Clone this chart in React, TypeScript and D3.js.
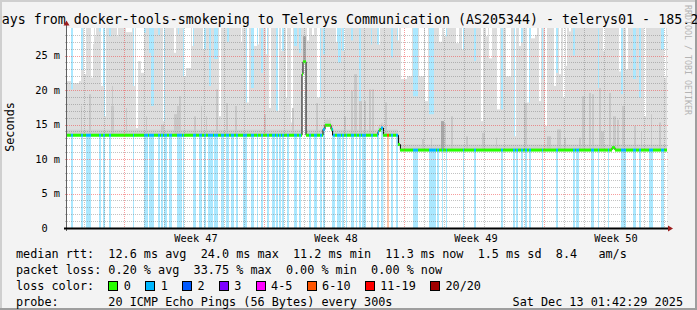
import React from 'react';
import * as d3 from 'd3';

const W = 697, H = 310;
const X0 = 67, X1 = 667, Y0 = 228, Y1 = 28;
const DAYS = 30;
const Y_MAX = 29;
const MONO = '"DejaVu Sans Mono", monospace';
const PRE = { whiteSpace: 'pre' as const };
const LEG_FS = 11.8;

const titleText = 'ays from docker-tools-smokeping to Telerys Communication (AS205344) - telerys01 - 185.2';
const weekStarts = [2.85, 9.85, 16.85, 23.85];
const weekLabels = ['Week 47', 'Week 48', 'Week 49', 'Week 50'];
const yTicks = [0, 5, 10, 15, 20, 25];
const yTickLabels = ['0  ', '5 m', '10 m', '15 m', '20 m', '25 m'];

// median rtt steps: [startDay, ms]
const medianSteps: [number, number][] = [
  [0, 13.45], [11.75, 22.3], [11.8, 24.1], [11.95, 13.45], [12.8, 14.3], [12.9, 14.9],
  [13.2, 14.3], [13.28, 13.45], [15.55, 13.9], [15.6, 14.2], [15.7, 14.5], [15.82, 13.45],
  [16.57, 12.1], [16.67, 11.3], [27.25, 11.65], [27.4, 11.3],
];

// packet loss events: [startDay, endDay, lost pings of 20]
const lossEvents: [number, number, number][] = [
  [0.2, 0.3, 1], [0.7, 0.8, 1], [0.95, 1.2, 1], [1.6, 1.7, 1], [1.8, 1.9, 1], [2.1, 2.2, 1],
  [3.3, 3.35, 1], [3.85, 4.05, 1], [4.1, 4.35, 1], [4.55, 4.65, 1], [4.7, 4.8, 1], [4.85, 5.0, 1],
  [5.1, 5.25, 1], [5.5, 5.75, 1], [5.8, 5.85, 1], [6.3, 6.45, 1], [6.6, 6.75, 1], [6.85, 6.95, 1],
  [7.05, 7.3, 1], [7.35, 7.55, 1], [7.7, 7.85, 1], [7.95, 8.1, 1], [8.2, 8.35, 1], [8.45, 8.55, 1],
  [8.8, 9.0, 1], [9.2, 9.35, 1], [9.5, 9.55, 1], [9.7, 9.8, 1], [10.0, 10.1, 1], [10.25, 10.4, 1],
  [10.45, 10.55, 1], [10.6, 10.7, 1], [10.75, 10.85, 1], [11.0, 11.1, 1], [11.35, 11.5, 1],
  [11.6, 11.7, 1], [12.1, 12.2, 1], [12.35, 12.5, 1], [12.65, 12.75, 1], [12.8, 12.9, 1],
  [13.25, 13.4, 1], [13.5, 13.7, 1], [13.75, 13.85, 1], [13.95, 14.0, 1], [14.2, 14.35, 1],
  [14.45, 14.5, 1], [14.6, 14.7, 1], [14.75, 14.95, 1], [15.2, 15.3, 1], [15.5, 15.6, 1],
  [15.7, 15.82, 1], [16.0, 16.1, 7], [16.2, 16.3, 1], [16.45, 16.55, 1], [17.3, 17.55, 1],
  [18.1, 18.45, 1], [18.5, 18.6, 1], [18.75, 18.8, 1], [18.95, 19.0, 1], [19.8, 19.85, 1],
  [20.35, 20.45, 1], [21.7, 21.8, 1], [22.3, 22.4, 1], [22.45, 22.55, 1], [22.7, 22.8, 1],
  [22.9, 23.0, 1], [23.1, 23.2, 1], [23.75, 23.8, 1], [24.45, 24.55, 1], [25.3, 25.4, 1],
  [25.45, 25.6, 1], [26.2, 26.35, 1], [26.55, 26.6, 1], [27.05, 27.1, 1], [27.7, 27.95, 1],
  [28.3, 28.45, 1], [28.6, 28.7, 1], [29.1, 29.3, 1], [29.7, 29.85, 1],
];

// periods where the slowest ping stayed below the graph top: [startDay, endDay, max ms]
const smokeGaps: [number, number, number][] = [
  [0.0, 0.2, 21.3], [0.2, 0.3, 20.1], [0.3, 0.6, 21.0], [0.6, 0.7, 21.3], [0.7, 0.8, 22.9],
  [0.85, 0.95, 22.3], [1.2, 1.3, 21.8], [1.3, 1.35, 26.7], [1.4, 1.45, 27.8], [1.6, 1.7, 28.5],
  [1.7, 1.85, 20.6], [1.85, 1.95, 16.2], [2.1, 2.2, 27.8], [2.5, 2.55, 27.8], [2.95, 3.25, 28.4],
  [3.3, 3.4, 20.6], [3.45, 3.55, 14.5], [3.55, 3.7, 24.2], [3.7, 3.85, 22.5], [3.85, 3.95, 28.3],
  [4.1, 4.2, 25.4], [4.2, 4.35, 17.7], [4.55, 4.65, 28.0], [4.8, 4.9, 15.5], [5.35, 5.45, 25.4],
  [5.55, 5.6, 28.1], [5.8, 5.95, 22.0], [5.95, 6.2, 23.2], [6.25, 6.35, 26.4], [6.8, 6.95, 25.9],
  [7.1, 7.2, 20.6], [7.35, 7.55, 24.5], [7.6, 7.7, 16.2], [8.0, 8.1, 27.0], [8.7, 8.75, 27.0],
  [8.95, 9.1, 18.2], [9.2, 9.35, 20.3], [9.35, 9.5, 26.4], [9.5, 9.6, 26.6], [9.7, 9.8, 22.5],
  [9.95, 10.05, 25.2], [10.1, 10.2, 17.4], [10.45, 10.6, 17.0], [10.7, 10.85, 25.7],
  [10.95, 11.0, 18.9], [11.2, 11.3, 15.3], [11.35, 11.5, 26.4], [11.6, 11.7, 25.4],
  [12.0, 12.1, 27.2], [12.25, 12.35, 28.0], [12.5, 12.7, 18.9], [12.8, 12.9, 25.2],
  [13.45, 13.55, 27.0], [13.55, 13.7, 24.0], [13.75, 13.9, 25.7], [14.2, 14.3, 27.2],
  [14.6, 14.7, 17.7], [15.2, 15.25, 26.6], [15.5, 15.65, 26.6], [16.2, 16.3, 24.7],
  [16.5, 16.6, 27.2], [16.7, 17.0, 21.6], [17.0, 17.25, 22.0], [17.3, 17.55, 19.1],
  [17.6, 17.85, 22.0], [17.9, 18.05, 18.4], [18.1, 18.35, 16.5], [18.6, 18.75, 27.0],
  [18.85, 19.0, 27.8], [19.45, 19.6, 26.8], [19.75, 19.85, 25.9], [20.35, 20.45, 24.2],
  [20.7, 20.8, 15.5], [20.95, 21.05, 27.8], [21.1, 21.25, 24.6], [21.5, 21.65, 17.2],
  [21.7, 21.8, 17.2], [21.95, 22.2, 22.0], [22.35, 22.45, 13.3], [22.6, 22.7, 26.4],
  [22.7, 22.8, 26.9], [23.0, 23.15, 18.2], [23.15, 23.25, 27.5], [23.25, 23.4, 27.5],
  [23.4, 23.5, 28.0], [23.6, 23.7, 18.4], [23.75, 23.8, 21.6], [23.9, 24.0, 14.8],
  [24.35, 24.45, 20.6], [24.45, 24.55, 22.5], [24.6, 24.7, 22.3], [24.8, 24.9, 18.9],
  [24.95, 25.0, 23.5], [25.1, 25.2, 28.5], [25.3, 25.4, 25.0], [26.55, 26.6, 20.3],
  [26.8, 26.9, 25.7], [27.6, 27.7, 22.7], [27.7, 27.8, 19.4], [27.95, 28.05, 23.0],
  [28.3, 28.45, 21.6], [28.6, 28.7, 18.9], [28.85, 28.95, 16.2], [29.7, 29.85, 25.9],
  [29.85, 29.95, 21.8],
];

// denser smoke (inner pings): [startDay, endDay, ms, layer]
const smokeSpikes: [number, number, number, number][] = [
  [0.7, 0.75, 17.7, 1], [1.1, 1.2, 19.4, 1], [2.2, 2.35, 17.7, 1], [2.25, 2.3, 20.6, 1],
  [2.95, 3.0, 17.4, 1], [3.95, 4.0, 16.2, 1], [4.7, 4.85, 15.0, 1], [5.35, 5.5, 16.5, 1],
  [5.5, 5.6, 17.7, 1], [5.6, 5.7, 19.1, 1], [6.35, 6.45, 16.2, 1], [6.7, 6.75, 17.7, 1],
  [6.95, 7.0, 16.2, 1], [7.45, 7.55, 20.1, 1], [7.95, 8.05, 18.1, 1], [8.4, 8.5, 17.7, 1],
  [9.85, 9.95, 16.5, 1], [11.25, 11.35, 17.4, 1], [11.8, 11.95, 27.8, 2], [12.45, 12.55, 18.1, 1],
  [13.85, 13.95, 16.2, 1], [14.2, 14.3, 19.9, 1], [14.35, 14.5, 22.3, 1], [14.6, 14.75, 18.4, 1],
  [14.85, 14.95, 18.4, 1], [15.1, 15.2, 20.1, 1], [15.25, 15.35, 20.1, 1], [15.9, 16.0, 18.2, 1],
  [17.75, 17.85, 12.9, 1], [18.2, 18.25, 13.1, 1], [18.7, 18.85, 15.5, 2], [18.85, 18.95, 15.2, 1],
  [19.2, 19.3, 16.2, 1], [19.95, 20.05, 13.3, 1], [20.75, 20.9, 13.8, 1], [21.45, 21.5, 13.1, 1],
  [22.85, 23.0, 18.1, 1], [24.0, 24.2, 13.3, 1], [24.5, 24.7, 14.3, 1], [24.85, 24.95, 13.1, 1],
  [25.6, 25.7, 13.1, 1], [25.75, 25.9, 19.1, 1], [26.1, 26.2, 19.6, 1], [26.25, 26.35, 19.4, 1],
  [26.6, 26.7, 20.3, 1], [26.7, 26.85, 14.0, 1], [27.1, 27.2, 19.6, 1], [27.3, 27.45, 16.2, 1],
  [27.5, 27.6, 15.7, 1], [27.75, 27.9, 17.7, 1], [28.35, 28.45, 14.8, 1], [28.7, 28.75, 14.0, 1],
  [29.2, 29.25, 16.5, 1], [29.6, 29.7, 15.3, 1],
];

const lossLabels = ['0', '1', '2', '3', '4-5', '6-10', '11-19', '20/20'];
const lossColors = ['#26ff00', '#00b8ff', '#0059ff', '#7e00ff', '#ff00ff', '#ff5500', '#ff0000', '#a10000'];
const smokeColors = ['#dddddd', '#c8c8c8', '#a8a8a8'];

const rttStats = ['12.6 ms avg', '24.0 ms max', '11.2 ms min', '11.3 ms now', '1.5 ms sd', '8.4   am/s'];
const lossStats = ['0.20 % avg', '33.75 % max', '0.00 % min', '0.00 % now'];
const probeText = '20 ICMP Echo Pings (56 Bytes) every 300s';
const dateText = 'Sat Dec 13 01:42:29 2025';
const watermark = 'RRDTOOL / TOBI OETIKER';

function lossClass(n: number) {
  if (n <= 0) return 0;
  if (n <= 3) return n;
  if (n <= 5) return 4;
  if (n <= 10) return 5;
  if (n <= 19) return 6;
  return 7;
}

export default function App() {
  const x = d3.scaleLinear().domain([0, DAYS]).range([X0, X1]);
  const y = d3.scaleLinear().domain([0, Y_MAX]).range([Y0, Y1]);

  const medianAt = (d: number) => {
    let v = medianSteps[0][1];
    for (const [s, m] of medianSteps) if (s <= d + 1e-9) v = m;
    return v;
  };
  const lossAt = (d: number) => {
    for (const [s, e, c] of lossEvents) if (d >= s && d < e) return c;
    return 0;
  };
  const topAt = (d: number) => {
    for (const [s, e, t] of smokeGaps) if (d >= s && d < e) return t;
    return Y_MAX;
  };

  const cols = d3.range(0, X1 - X0).map((i) => {
    const d0 = x.invert(X0 + i);
    const d1 = x.invert(X0 + i + 1);
    const dm = (d0 + d1) / 2;
    return { i, d0, d1, med: medianAt(dm), loss: lossAt(dm), top: topAt(dm) };
  });

  const medLine = d3
    .line<[number, number]>()
    .x((p) => x(p[0]))
    .y((p) => y(p[1]))
    .curve(d3.curveStepAfter)([...medianSteps, [DAYS, medianSteps[medianSteps.length - 1][1]]]);

  const minorY = d3.range(1, Y_MAX, 1).filter((v) => v % 5 !== 0);
  const majorY = yTicks.filter((v) => v > 0);
  const dayLines = d3.range(weekStarts[0] - 2, DAYS, 1).filter((d) => !weekStarts.some((w) => Math.abs(w - d) < 1e-6));

  const rttLine = 'median rtt:  ' + rttStats.join('  ');
  const lossLine = 'packet loss: ' + lossStats.join('  ');
  const CW = LEG_FS * 0.602;
  let cursor = 16 + 13 * CW;
  const legendItems = lossLabels.map((lab, k) => {
    const bx = cursor;
    const tx = cursor + 15.5;
    cursor = tx + lab.length * CW + 2 * CW;
    return { lab, color: lossColors[k], bx, tx };
  });

  const lineY = [254, 270, 286, 302];
  const legendText = (key: string, tx: number, ty: number, s: string, anchor = 'start') => (
    <text key={key} x={tx} y={ty} textAnchor={anchor} fontFamily={MONO} fontSize={LEG_FS} fill="#000" style={PRE}>
      {s}
    </text>
  );

  return (
    <svg width={W} height={H} style={{ position: 'absolute', left: 0, top: 0 }} xmlns="http://www.w3.org/2000/svg">
      <rect x={0} y={0} width={W} height={H} fill="#f3f3f3" />
      <rect x={0} y={0} width={W} height={2} fill="#cfcfcf" />
      <rect x={0} y={0} width={2} height={H} fill="#cfcfcf" />
      <rect x={0} y={H - 2} width={W} height={2} fill="#9e9e9e" />
      <rect x={W - 2} y={0} width={2} height={H} fill="#9e9e9e" />

      <text x={1.7} y={23.5} fontFamily={MONO} fontSize={13.3} fill="#000" style={PRE}>
        {titleText}
      </text>

      <text transform={`translate(685,5) rotate(90)`} fontFamily={MONO} fontSize={8.3} fill="#b4b4b4">
        {watermark}
      </text>

      {/* canvas */}
      <rect x={X0} y={Y1} width={X1 - X0} height={Y0 - Y1} fill="#ffffff" />

      {/* loss background */}
      {lossEvents.map(([s, e, c], k) => (
        <rect
          key={'l' + k}
          x={x(s)}
          y={y(Y_MAX)}
          width={x(e) - x(s)}
          height={y(0) - y(Y_MAX)}
          fill={lossColors[lossClass(c)]}
          fillOpacity={0.33}
        />
      ))}

      {/* outer smoke */}
      {cols.map((c) => (
        <rect
          key={'s' + c.i}
          x={x(c.d0)}
          y={y(c.top)}
          width={x(c.d1) - x(c.d0)}
          height={Math.max(0, y(c.med - 0.15) - y(c.top))}
          fill={smokeColors[0]}
        />
      ))}
      {/* inner smoke band */}
      {cols.map((c) => (
        <rect
          key={'b' + c.i}
          x={x(c.d0)}
          y={y(Math.min(c.top, c.med + 0.8))}
          width={x(c.d1) - x(c.d0)}
          height={Math.max(0, y(c.med) - y(Math.min(c.top, c.med + 0.8)))}
          fill="#d0d0d0"
        />
      ))}
      {smokeSpikes.map(([s, e, v, layer], k) => {
        const base = medianAt((s + e) / 2);
        return (
          <rect
            key={'k' + k}
            x={x(s)}
            y={y(v)}
            width={x(e) - x(s)}
            height={Math.max(0, y(base) - y(v))}
            fill={smokeColors[layer]}
          />
        );
      })}

      {/* median */}
      <path d={medLine || ''} fill="none" stroke="#000" strokeWidth={1} />
      {cols.map((c) => (
        <rect
          key={'m' + c.i}
          x={x(c.d0)}
          y={y(c.med) - 1.5}
          width={x(c.d1) - x(c.d0)}
          height={3}
          fill={lossColors[lossClass(c.loss)]}
        />
      ))}

      {/* grid */}
      <g shapeRendering="crispEdges">
        {minorY.map((v) => (
          <line key={'gy' + v} x1={X0 - 2} x2={X1 + 2} y1={Math.round(y(v)) + 0.5} y2={Math.round(y(v)) + 0.5} stroke="rgba(120,120,120,0.45)" strokeDasharray="1,1" />
        ))}
        {dayLines.map((d) => (
          <line key={'gx' + d} x1={Math.round(x(d)) + 0.5} x2={Math.round(x(d)) + 0.5} y1={Y1} y2={Y0} stroke="rgba(120,120,120,0.45)" strokeDasharray="1,1" />
        ))}
        {majorY.map((v) => (
          <line key={'My' + v} x1={X0 - 2} x2={X1 + 2} y1={Math.round(y(v)) + 0.5} y2={Math.round(y(v)) + 0.5} stroke="rgba(240,60,60,0.5)" strokeDasharray="1,1" />
        ))}
        {weekStarts.map((d) => (
          <line key={'Mx' + d} x1={Math.round(x(d)) + 0.5} x2={Math.round(x(d)) + 0.5} y1={Y1} y2={Y0} stroke="rgba(240,60,60,0.5)" strokeDasharray="1,1" />
        ))}
      </g>

      {/* axes */}
      <line x1={X0 - 0.5} x2={X0 - 0.5} y1={Y0 + 3} y2={Y1 - 3} stroke="#606060" strokeWidth={1} />
      <path d={`M${X0 - 3.5},${Y1 - 2.5} L${X0 + 2.5},${Y1 - 2.5} L${X0 - 0.5},${Y1 - 7.5} Z`} fill="#9b1c1c" />
      <line x1={X0 - 3} x2={X1 + 2} y1={Y0 + 0.5} y2={Y0 + 0.5} stroke="#000" strokeWidth={2} />
      <path d={`M${X1 + 1},${Y0 - 2.5} L${X1 + 1},${Y0 + 3.5} L${X1 + 6},${Y0 + 0.5} Z`} fill="#9b1c1c" />

      {/* y labels */}
      {yTicks.map((v, k) => (
        <text key={'yl' + v} x={60} y={y(v) + 3.6} textAnchor="end" fontFamily={MONO} fontSize={10.3} fill="#000" style={PRE}>
          {yTickLabels[k]}
        </text>
      ))}
      <text transform={`translate(14,127) rotate(-90)`} textAnchor="middle" fontFamily={MONO} fontSize={LEG_FS} fill="#000">
        Seconds
      </text>

      {/* x labels */}
      {weekStarts.map((d, k) => (
        <text key={'xl' + k} x={x(d + 3.5) + 2} y={242} textAnchor="middle" fontFamily={MONO} fontSize={10.3} fill="#000">
          {weekLabels[k]}
        </text>
      ))}

      {/* legend */}
      {legendText('t1', 16, lineY[0] + 4, rttLine)}
      {legendText('t2', 16, lineY[1] + 4, lossLine)}
      {legendText('t3', 16, lineY[2] + 4, 'loss color:')}
      {legendItems.map((it) => (
        <g key={'lg' + it.lab}>
          <rect x={Math.round(it.bx) + 0.5} y={lineY[2] - 4.5} width={9} height={9} fill={it.color} stroke="#000" strokeWidth={1} />
          {legendText('lt' + it.lab, it.tx, lineY[2] + 4, it.lab)}
        </g>
      ))}
      {legendText('t4', 16, lineY[3] + 4, 'probe:')}
      {legendText('t5', 16 + 13 * CW, lineY[3] + 4, probeText)}
      {legendText('t6', 683, lineY[3] + 4, dateText, 'end')}
    </svg>
  );
}
